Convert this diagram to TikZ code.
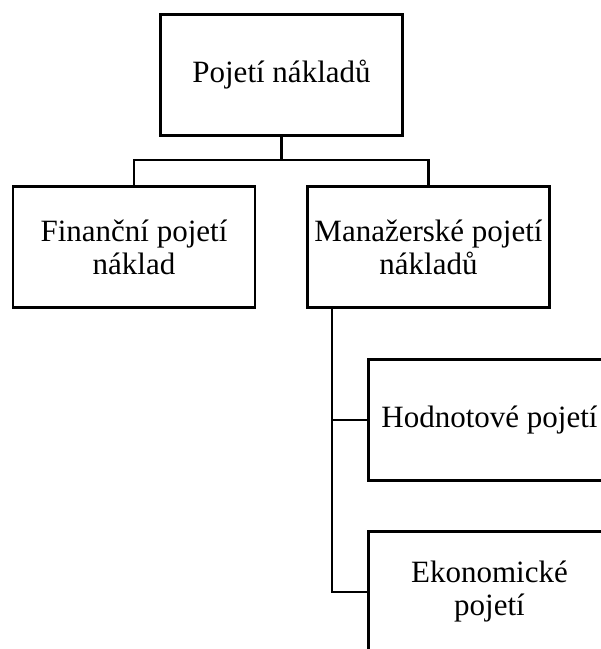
\documentclass[tikz,border=0pt]{standalone}
\usepackage{fontspec}
\setmainfont{Liberation Serif}
\tikzset{
	box/.style={rectangle, draw, minimum width=242pt, minimum height=121pt, align=center, inner sep=0pt, font=\fontsize{31}{33}\selectfont}
}
\begin{document}
\begin{tikzpicture}[x=1pt,y=-1pt,line width=2.6pt]
			\useasboundingbox (0,0) rectangle (601,649);
			\node[box] (top) at (281.5,75) {Pojetí nákladů};
			
			\node[box] (fin) at (134,247) {Finanční pojetí\\náklad};
			\node[box] (man) at (428.5,247) {Manažerské pojetí\\nákladů};
			
			\node[box] (hod) at (489.5,420) {Hodnotové pojetí};
			\node[box] (eko) at (489.5,592) {Ekonomické\\pojetí};
			
			\coordinate (bar) at (0,160);
			\coordinate (spine) at (332,308);
			
			\foreach \to in {fin,man}
			\draw (top.south) -- (top.south |- bar) -| (\to.north);
			\foreach \to in {hod,eko}
			\draw (spine) |- (\to.west);
		\end{tikzpicture}
\end{document}
